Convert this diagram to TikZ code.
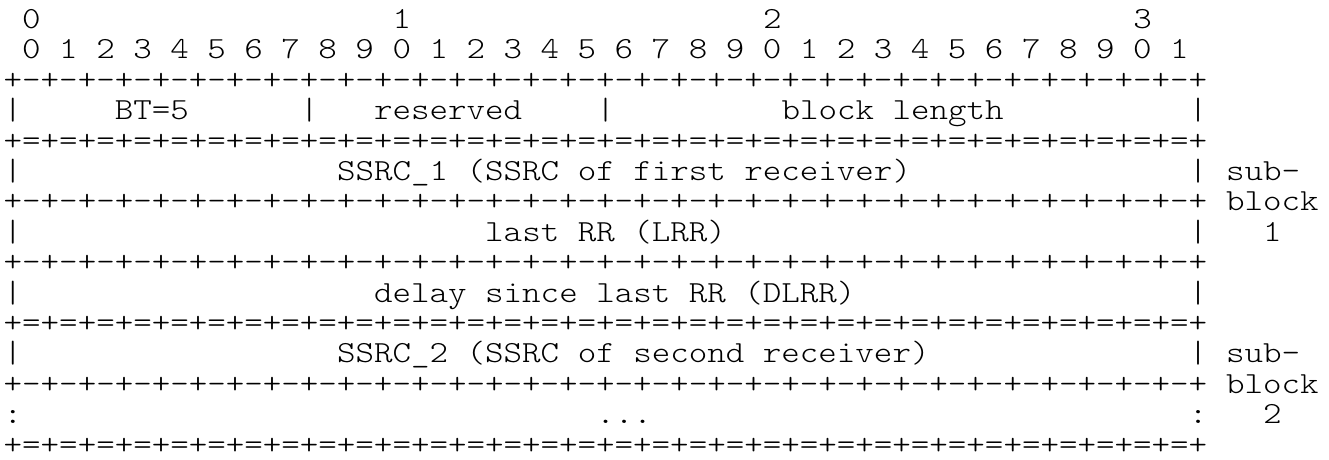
\documentclass[tikz,border=0pt]{standalone}
\usepackage{fontspec}
\usepackage{graphicx}
\newcommand\dashseg{+-+-+-+-+-+-+-+-}
\newcommand\eqseg{+=+=+=+=+=+=+=+=}
\newcommand\dashrule{\dashseg\dashseg\dashseg\dashseg+}
\newcommand\eqrule{\eqseg\eqseg\eqseg\eqseg+}
\newcommand\cellat[4]{\node[txt] (#1) at ({3.7+#3*18.52},{28.5+(#2-1)*30.4}) {\scalebox{1.15}[1]{#4}};}
\tikzset{txt/.style={anchor=base west, inner sep=0pt, outer sep=0pt, text=black,
  font={\ttfamily\fontseries{l}\fontsize{23pt}{23pt}\selectfont}}}
\begin{document}
\begin{tikzpicture}[x=0.75pt,y=-0.75pt]
\useasboundingbox[fill=white] (0,0) rectangle (1329,460);
% line 1
\cellat{h0}{1}{1}{0}
\cellat{h1}{1}{21}{1}
\cellat{h2}{1}{41}{2}
\cellat{h3}{1}{61}{3}
% line 2
\cellat{bits}{2}{1}{0 1 2 3 4 5 6 7 8 9 0 1 2 3 4 5 6 7 8 9 0 1 2 3 4 5 6 7 8 9 0 1}
% line 3
\cellat{r3}{3}{0}{\dashrule}
% line 4
\cellat{b4a}{4}{0}{|}
\cellat{bt}{4}{6}{BT=5}
\cellat{b4b}{4}{16}{|}
\cellat{res}{4}{20}{reserved}
\cellat{b4c}{4}{32}{|}
\cellat{blen}{4}{42}{block length}
\cellat{b4d}{4}{64}{|}
% line 5
\cellat{r5}{5}{0}{\eqrule}
% line 6
\cellat{b6a}{6}{0}{|}
\cellat{ssrc1}{6}{18}{SSRC\_1 (SSRC of first receiver)}
\cellat{b6b}{6}{64}{|}
\cellat{sub1}{6}{66}{sub-}
% line 7
\cellat{r7}{7}{0}{\dashrule}
\cellat{blk1}{7}{66}{block}
% line 8
\cellat{b8a}{8}{0}{|}
\cellat{lrr}{8}{26}{last RR (LRR)}
\cellat{b8b}{8}{64}{|}
\cellat{one}{8}{68}{1}
% line 9
\cellat{r9}{9}{0}{\dashrule}
% line 10
\cellat{b10a}{10}{0}{|}
\cellat{dlrr}{10}{20}{delay since last RR (DLRR)}
\cellat{b10b}{10}{64}{|}
% line 11
\cellat{r11}{11}{0}{\eqrule}
% line 12
\cellat{b12a}{12}{0}{|}
\cellat{ssrc2}{12}{18}{SSRC\_2 (SSRC of second receiver)}
\cellat{b12b}{12}{64}{|}
\cellat{sub2}{12}{66}{sub-}
% line 13
\cellat{r13}{13}{0}{\dashrule}
\cellat{blk2}{13}{66}{block}
% line 14
\cellat{c14a}{14}{0}{:}
\cellat{dots}{14}{32}{...}
\cellat{c14b}{14}{64}{:}
\cellat{two}{14}{68}{2}
% line 15
\cellat{r15}{15}{0}{\eqrule}
\end{tikzpicture}
\end{document}
